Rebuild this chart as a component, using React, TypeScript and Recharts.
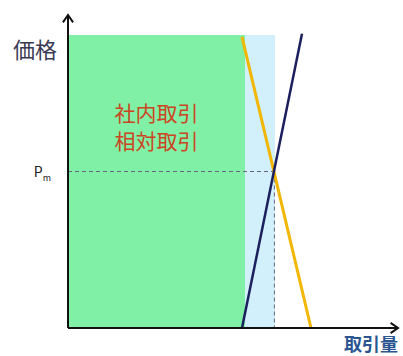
import React from "react";
import {
    ComposedChart,
    Line,
    XAxis,
    YAxis,
    ReferenceArea,
    ReferenceLine,
} from "recharts";

// schematic units: quantity 0..110, price 0..100
const quantityDomain = [0, 110];
const priceDomain = [0, 100];

const supplyCurve = [
    { q: 58, p: 0 },
    { q: 78, p: 94 },
];
const demandCurve = [
    { q: 58, p: 93 },
    { q: 81, p: 0 },
];

const internalRange = [0, 59];
const bilateralRange = [59, 69];
const regionTop = 93.6;

const equilibriumQty = 68.8;
const equilibriumPrice = 50;
const priceTicks = [50];

const yLabel = "価格";
const xLabel = "取引量";
const areaLines = ["社内取引", "相対取引"];

const font = "'Noto Sans CJK JP', 'Noto Sans', sans-serif";

const Arrow = (props: any) => {
    const { x1, y1, x2, y2 } = props;
    const ang = Math.atan2(y2 - y1, x2 - x1);
    const len = 9;
    const spread = 0.6;
    const a = [x2 - len * Math.cos(ang - spread), y2 - len * Math.sin(ang - spread)];
    const b = [x2 - len * Math.cos(ang + spread), y2 - len * Math.sin(ang + spread)];
    return (
        <g>
            <line x1={x1} y1={y1} x2={x2} y2={y2} stroke="#111" strokeWidth={2} />
            <polyline
                points={`${a[0]},${a[1]} ${x2},${y2} ${b[0]},${b[1]}`}
                fill="none"
                stroke="#111"
                strokeWidth={2}
            />
        </g>
    );
};

const PriceTick = (props: any) => {
    const { x, y } = props;
    return (
        <text x={x - 9} y={y + 5} fontFamily={font} fill="#222" textAnchor="end">
            <tspan fontSize={14}>P</tspan>
            <tspan fontSize={9} dy={4}>m</tspan>
        </text>
    );
};

const AreaText = (props: any) => {
    const { viewBox } = props;
    const cx = viewBox.x + viewBox.width / 2;
    return (
        <g>
            {areaLines.map((t, i) => (
                <text
                    key={t}
                    x={cx}
                    y={viewBox.y + 86 + i * 28}
                    textAnchor="middle"
                    fontFamily={font}
                    fontSize={21}
                    fill="#cc4422"
                >
                    {t}
                </text>
            ))}
        </g>
    );
};

const YTitle = (props: any) => {
    const { viewBox } = props;
    return (
        <text
            x={viewBox.x + 35}
            y={58}
            textAnchor="middle"
            fontFamily={font}
            fontSize={22}
            fill="#3a3a55"
        >
            {yLabel}
        </text>
    );
};

const XTitle = (props: any) => {
    const { viewBox } = props;
    return (
        <text
            x={viewBox.x + viewBox.width}
            y={viewBox.y + 23}
            textAnchor="end"
            fontFamily={font}
            fontSize={18}
            fontWeight="bold"
            fill="#2a5590"
        >
            {xLabel}
        </text>
    );
};

export default function App() {
    return (
        <div style={{ position: "absolute", left: 0, top: 0, background: "#fff" }}>
            <ComposedChart
                width={403}
                height={356}
                margin={{ top: 15, right: 5, left: 0, bottom: 0 }}
            >
                <XAxis
                    type="number"
                    dataKey="q"
                    domain={quantityDomain}
                    allowDuplicatedCategory={false}
                    ticks={[]}
                    tick={false}
                    tickLine={false}
                    axisLine={false}
                    height={28}
                    label={{ content: XTitle }}
                />
                <YAxis
                    type="number"
                    dataKey="p"
                    domain={priceDomain}
                    ticks={priceTicks}
                    tick={PriceTick}
                    tickLine={false}
                    axisLine={false}
                    width={68}
                    label={{ content: YTitle }}
                />
                <ReferenceArea
                    x1={internalRange[0]}
                    x2={internalRange[1]}
                    y1={0}
                    y2={regionTop}
                    fill="#80f0a6"
                    fillOpacity={1}
                    stroke="none"
                    label={{ content: AreaText }}
                />
                <ReferenceArea
                    x1={bilateralRange[0]}
                    x2={bilateralRange[1]}
                    y1={0}
                    y2={regionTop}
                    fill="#d2f0fb"
                    fillOpacity={1}
                    stroke="none"
                />
                <ReferenceLine
                    segment={[
                        { x: 0, y: equilibriumPrice },
                        { x: equilibriumQty, y: equilibriumPrice },
                    ]}
                    stroke="#666680"
                    strokeDasharray="4 3"
                    strokeWidth={1}
                />
                <ReferenceLine
                    segment={[
                        { x: equilibriumQty, y: equilibriumPrice },
                        { x: equilibriumQty, y: 0 },
                    ]}
                    stroke="#666680"
                    strokeDasharray="4 3"
                    strokeWidth={1}
                />
                <Line
                    data={demandCurve}
                    dataKey="p"
                    stroke="#f2b705"
                    strokeWidth={3}
                    dot={false}
                    isAnimationActive={false}
                />
                <Line
                    data={supplyCurve}
                    dataKey="p"
                    stroke="#1b1f5e"
                    strokeWidth={2.5}
                    dot={false}
                    isAnimationActive={false}
                />
                <ReferenceLine
                    segment={[
                        { x: 0, y: 0 },
                        { x: quantityDomain[1], y: 0 },
                    ]}
                    shape={Arrow}
                />
                <ReferenceLine
                    segment={[
                        { x: 0, y: 0 },
                        { x: 0, y: priceDomain[1] },
                    ]}
                    shape={Arrow}
                />
            </ComposedChart>
        </div>
    );
}
